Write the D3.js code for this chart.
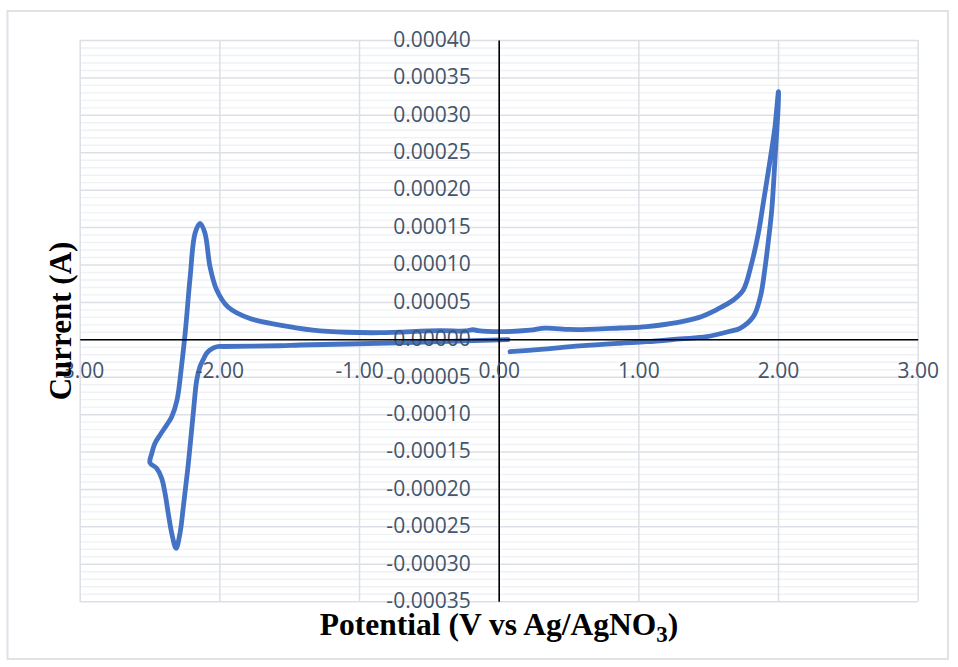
<!DOCTYPE html>
<html>
<head>
<meta charset="utf-8">
<script src="https://cdn.jsdelivr.net/npm/d3@7"></script>
<style>
  html, body { margin: 0; padding: 0; background: #ffffff; }
  svg { display: block; }
</style>
</head>
<body>
<div id="chart"></div>
<script>
// Cyclic voltammogram: potential (V vs Ag/AgNO3) and current (A), in scan order
const potentialV = [
  0.081, 0.300, 0.582, 0.868, 1.060, 1.300, 1.489, 1.650, 1.728, 1.823, 1.875, 1.905, 1.930, 1.955, 1.978, 2.002, 2.003,
  1.978, 1.943, 1.894, 1.859, 1.811, 1.751, 1.680, 1.561, 1.430, 1.060, 0.868, 0.582, 0.500, 0.332, 0.224, 0.009,
  -0.148, -0.184, -0.241, -0.420, -0.850, -1.088, -1.330, -1.566, -1.781, -1.938, -2.019, -2.067, -2.103, -2.138,
  -2.174, -2.209, -2.245, -2.274, -2.303, -2.341, -2.377, -2.425, -2.461, -2.484, -2.497,
  -2.449, -2.413, -2.389, -2.366, -2.341, -2.310,
  -2.282, -2.258, -2.222, -2.187, -2.162, -2.139, -2.117, -2.091, -2.067, -2.019, -1.974, -1.566, -1.421, -1.088, -0.420, 0.067
];
const currentA = [
  -1.66e-5, -1.35e-5, -8.9e-6, -5.3e-6, -3.2e-6, 0.5e-6, 3.5e-6, 1.05e-5, 1.47e-5, 3.02e-5, 5.8e-5, 9.3e-5, 1.30e-4, 1.728e-4, 2.396e-4, 3.154e-4, 3.31e-4,
  2.841e-4, 2.396e-4, 1.818e-4, 1.417e-4, 1.016e-4, 6.59e-5, 5.25e-5, 3.98e-5, 2.9e-5, 1.68e-5, 1.51e-5, 1.3e-5, 1.32e-5, 1.5e-5, 1.22e-5, 1.02e-5,
  1.15e-5, 1.28e-5, 1.11e-5, 1.15e-5, 8.8e-6, 9.4e-6, 1.24e-5, 1.91e-5, 2.78e-5, 4.32e-5, 6.59e-5, 9.70e-5, 1.417e-4, 1.550e-4,
  1.417e-4, 8.37e-5, 8.0e-6, -4.1e-5, -8.1e-5, -1.034e-4, -1.145e-4, -1.279e-4, -1.390e-4, -1.524e-4, -1.649e-4,
  -1.724e-4, -1.858e-4, -2.058e-4, -2.326e-4, -2.593e-4, -2.793e-4,
  -2.593e-4, -2.237e-4, -1.657e-4, -9.89e-5, -5.44e-5, -3.66e-5, -2.77e-5, -1.87e-5, -1.43e-5, -9.9e-6, -9.6e-6, -8.6e-6, -7.6e-6, -6.3e-6, -3.2e-6, -5e-7
];

const xTicks = [-3, -2, -1, 0, 1, 2, 3];
const yTicks = [0.0004, 0.00035, 0.0003, 0.00025, 0.0002, 0.00015, 0.0001, 0.00005, 0,
  -0.00005, -0.0001, -0.00015, -0.0002, -0.00025, -0.0003, -0.00035];
const yMinorStep = 0.00001;

const xTitle = "Potential (V vs Ag/AgNO";
const xTitleSub = "3";
const xTitleEnd = ")";
const yTitle = "Current (A)";

const W = 958, H = 667;
const plot = { left: 79.7, right: 917.7, top: 40, bottom: 601.2 };

const svg = d3.select("#chart").append("svg")
  .attr("width", W).attr("height", H)
  .style("background", "#ffffff");

// Chart frame
svg.append("rect")
  .attr("x", 7.5).attr("y", 11).attr("width", 940.5).attr("height", 648)
  .attr("fill", "#ffffff").attr("stroke", "#dfe2e7").attr("stroke-width", 2);

const x = d3.scaleLinear().domain([-3, 3]).range([plot.left, plot.right]);
const y = d3.scaleLinear().domain([-0.00035, 0.0004]).range([plot.bottom, plot.top]);
const plotW = plot.right - plot.left;
const plotH = plot.bottom - plot.top;

// Minor horizontal gridlines
const minorVals = d3.range(-35, 41).map(k => k * yMinorStep)
  .filter(v => Math.abs(Math.round(v / 0.00005) * 0.00005 - v) > 1e-9);
svg.append("g")
  .attr("transform", `translate(${plot.left},0)`)
  .call(d3.axisLeft(y).tickValues(minorVals).tickSize(-plotW).tickFormat(""))
  .call(g => g.select(".domain").remove())
  .call(g => g.selectAll("line").attr("stroke", "#eff1f4").attr("stroke-width", 1.4));

// Major horizontal gridlines
svg.append("g")
  .attr("transform", `translate(${plot.left},0)`)
  .call(d3.axisLeft(y).tickValues(yTicks).tickSize(-plotW).tickFormat(""))
  .call(g => g.select(".domain").remove())
  .call(g => g.selectAll("line").attr("stroke", "#dcdfe5").attr("stroke-width", 1.5));

// Vertical gridlines
svg.append("g")
  .attr("transform", `translate(0,${plot.bottom})`)
  .call(d3.axisBottom(x).tickValues(xTicks).tickSize(-plotH).tickFormat(""))
  .call(g => g.select(".domain").remove())
  .call(g => g.selectAll("line").attr("stroke", "#dcdfe5").attr("stroke-width", 1.5));

// CV trace
const pts = potentialV.map((v, i) => [v, currentA[i]]);
const line = d3.line()
  .x(d => x(d[0]))
  .y(d => y(d[1]))
  .curve(d3.curveCatmullRom.alpha(0.5));
svg.append("path")
  .datum(pts)
  .attr("d", line)
  .attr("fill", "none")
  .attr("stroke", "#4472c4")
  .attr("stroke-width", 4.8)
  .attr("stroke-linejoin", "round")
  .attr("stroke-linecap", "round");

const tickFont = "'Open Sans', 'Noto Sans', sans-serif";
const tickColor = "#44546a";

// Vertical axis through zero potential
const yAxis = svg.append("g")
  .attr("transform", `translate(${x(0)},0)`)
  .call(d3.axisLeft(y).tickValues(yTicks).tickSize(0).tickPadding(28)
    .tickFormat(d => d.toFixed(5)));
yAxis.select(".domain").attr("stroke", "#000000").attr("stroke-width", 1.6);
yAxis.selectAll("text")
  .attr("font-family", tickFont).attr("font-size", 21)
  .attr("fill", tickColor).attr("dy", "0.3em");

// Horizontal axis through zero current
const xAxis = svg.append("g")
  .attr("transform", `translate(0,${y(0)})`)
  .call(d3.axisBottom(x).tickValues(xTicks).tickSize(0).tickPadding(24)
    .tickFormat(d => d.toFixed(2)));
xAxis.select(".domain").attr("stroke", "#000000").attr("stroke-width", 1.6);
xAxis.selectAll("text")
  .attr("font-family", tickFont).attr("font-size", 21)
  .attr("fill", tickColor);

// Axis titles
const titleFont = "'Liberation Serif', 'Times New Roman', serif";
svg.append("text")
  .attr("transform", "translate(71,321) rotate(-90)")
  .attr("text-anchor", "middle")
  .attr("font-family", titleFont).attr("font-weight", "bold").attr("font-size", 31)
  .attr("fill", "#000000")
  .text(yTitle);

const xt = svg.append("text")
  .attr("x", 499).attr("y", 635)
  .attr("text-anchor", "middle")
  .attr("font-family", titleFont).attr("font-weight", "bold").attr("font-size", 31.5)
  .attr("fill", "#000000");
xt.append("tspan").text(xTitle);
xt.append("tspan").attr("dy", 7).attr("font-size", 23).text(xTitleSub);
xt.append("tspan").attr("dy", -7).text(xTitleEnd);
</script>
</body>
</html>
